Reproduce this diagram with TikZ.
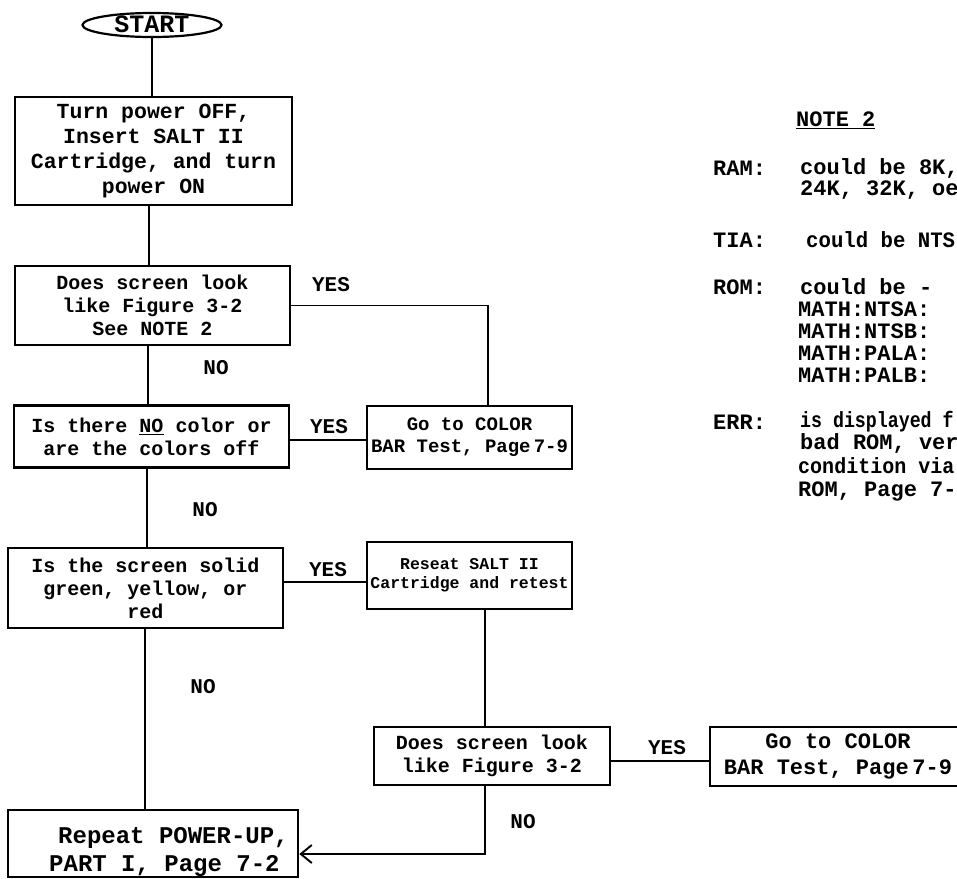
\documentclass[tikz,border=0pt]{standalone}
\usepackage{fontspec}
\usepackage{graphicx}
\setmainfont{Liberation Mono}
\usetikzlibrary{arrows.meta,shapes.geometric}
\newcommand{\fsz}[1]{\bfseries\fontsize{#1}{1.15\dimexpr#1pt\relax}\selectfont}
\begin{document}
\begin{tikzpicture}[x=1pt,y=-1pt,
  box/.style={draw, line width=2.6pt, rectangle, inner sep=0pt, align=center},
  conn/.style={line width=1.9pt},
  lab/.style={inner sep=0pt, font=\fsz{21}},
  note/.style={anchor=west, inner sep=0pt, font=\fsz{22}},
]
\fill[white] (0,0) rectangle (957,878);
\useasboundingbox (0,0) rectangle (957,878);

% start
\node[ellipse, draw, line width=2.2pt, minimum width=139pt, minimum height=24pt,
      inner sep=0pt, text height=14pt, text depth=0pt, font=\fsz{25}] (start) at (152,25) {START};

% boxes
\node[box, minimum width=277pt, minimum height=108pt, font=\fsz{21.5}] (b1) at (153.5,151)
  {Turn power OFF,\\Insert SALT II\\Cartridge, and turn\\power ON};
\node[box, minimum width=275pt, minimum height=79pt, font=\fsz{20}] (b2) at (152.5,305.5)
  {Does screen look\\like Figure 3-2\\See NOTE 2};
\node[box, minimum width=275pt, minimum height=62pt, font=\fsz{20}] (b3) at (151.5,436.5)
  {Is there \underline{NO} color or\\are the colors off};
\node[box, minimum width=205pt, minimum height=63pt, font=\fsz{19}] (b4) at (469.5,437.5)
  {Go to COLOR\\BAR Test, Page\,7-9};
\node[box, minimum width=275pt, minimum height=80pt, font=\fsz{20}] (b5) at (145.5,588)
  {Is the screen solid\\green, yellow, or\\red};
\node[box, minimum width=205pt, minimum height=67pt, font=\fsz{16.5}] (b6) at (469.5,575.5)
  {Reseat SALT II\\Cartridge and retest};
\node[box, minimum width=236pt, minimum height=58pt, font=\fsz{20}] (b7) at (492,756)
  {Does screen look\\like Figure 3-2};
\node[box, minimum width=256pt, minimum height=59pt, font=\fsz{22}] (b8) at (838,756.5)
  {Go to COLOR\\BAR Test, Page\,7-9};
\node[box, minimum width=290pt, minimum height=67pt] (b9) at (153,843.5) {};
\node[inner sep=0pt, anchor=west, align=left, font=\fsz{24}] (b9t) at (49,852)
  {\hspace*{9pt}Repeat POWER-UP,\\PART I, Page 7-2};

% column coordinates
\coordinate (xs1) at (149,0);
\coordinate (xs2) at (148,0);
\coordinate (xs3) at (147,0);
\coordinate (xs4) at (145,0);
\coordinate (xr) at (488,0);
\coordinate (xm) at (485,0);
\coordinate (ya) at (0,440);
\coordinate (yb) at (0,582);
\coordinate (yc) at (0,761);
\coordinate (yd) at (0,854);

% connectors
\draw[conn] (start.south) -- (start.south |- b1.north);
\draw[conn] (xs1 |- b1.south) -- (xs1 |- b2.north);
\draw[conn] (b2.east) -- (xr |- b2.east) -- (xr |- b4.north);
\draw[conn] (xs2 |- b2.south) -- (xs2 |- b3.north);
\draw[conn] (b3.east |- ya) -- (b4.west |- ya);
\draw[conn] (xs3 |- b3.south) -- (xs3 |- b5.north);
\draw[conn] (b5.east |- yb) -- (b6.west |- yb);
\draw[conn] (xm |- b6.south) -- (xm |- b7.north);
\draw[conn] (xs4 |- b5.south) -- (xs4 |- b9.north);
\draw[conn] (b7.east |- yc) -- (b8.west |- yc);
\draw[conn, -{Straight Barb[length=11pt,width=18pt,line width=1.9pt]}]
  (xm |- b7.south) -- (xm |- yd) -- (b9.east |- yd);

% labels
\node[lab] (y1) at (331,285) {YES};
\node[lab] (n1) at (216,368) {NO};
\node[lab] (y2) at (329,427) {YES};
\node[lab] (n2) at (205,510) {NO};
\node[lab] (y3) at (328,570) {YES};
\node[lab] (n3) at (203,687) {NO};
\node[lab] (y4) at (667,748) {YES};
\node[lab] (n4) at (523,822) {NO};

% note 2
\node[note] (nt) at (796,120) {\underline{NOTE 2}};
\node[note] (ram) at (713,168) {RAM:};
\node[note] (ram1) at (800,168) {could be 8K,};
\node[note] (ram2) at (800,190) {24K, 32K, oe};
\node[note] (tia) at (713,240) {TIA:};
\node[note] (tia1) at (806,240) {\scalebox{0.94}[1]{could be NTS}};
\node[note] (rom) at (713,287) {ROM:};
\node[note] (rom1) at (800,287) {could be -};
\node[note] (rom2) at (798,309) {MATH:NTSA:};
\node[note] (rom3) at (798,331) {MATH:NTSB:};
\node[note] (rom4) at (798,353) {MATH:PALA:};
\node[note] (rom5) at (798,375) {MATH:PALB:};
\node[note] (err) at (713,422) {ERR:};
\node[note] (err1) at (800,422) {\scalebox{0.83}[1]{is displayed f}};
\node[note] (err2) at (800,443) {bad ROM, ver};
\node[note] (err3) at (798,466) {\scalebox{0.91}[1]{condition via}};
\node[note] (err4) at (798,491) {ROM, Page 7-};
\end{tikzpicture}
\end{document}
